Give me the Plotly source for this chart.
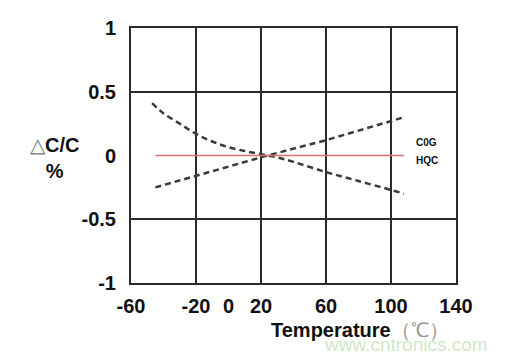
import plotly.graph_objects as go

# Data
temp_c0g_curve = [-47, -40, -30, -20, -10, 0, 10, 20, 30, 40, 60, 80, 100, 108]
dc_c0g_curve = [0.41, 0.33, 0.25, 0.17, 0.11, 0.065, 0.035, 0.01, -0.015, -0.05, -0.13, -0.20, -0.27, -0.30]
temp_rise = [-45, -20, 24, 60, 100, 108]
dc_rise = [-0.25, -0.16, 0.0, 0.12, 0.27, 0.30]
temp_flat = [-45, 108]
dc_flat = [0, 0]

x_tickvals = [-60, -20, 0, 20, 60, 100, 140]
x_gridvals = [-20, 20, 60, 100]
y_tickvals = [-1, -0.5, 0, 0.5, 1]
y_ticktext = ["-1", "-0.5", "0", "0.5", "1"]
y_gridvals = [-0.5, 0.5]

FONT = "Arial, Liberation Sans, sans-serif"
GRID = "#2b2b2b"

fig = go.Figure()
fig.add_trace(go.Scatter(x=temp_c0g_curve, y=dc_c0g_curve, mode="lines",
                         line=dict(color="#3a3a3a", width=2.5, dash="6px,4px", shape="spline"),
                         showlegend=False, hoverinfo="skip"))
fig.add_trace(go.Scatter(x=temp_rise, y=dc_rise, mode="lines",
                         line=dict(color="#3a3a3a", width=2.5, dash="6px,4px"),
                         showlegend=False, hoverinfo="skip"))
fig.add_trace(go.Scatter(x=temp_flat, y=dc_flat, mode="lines",
                         line=dict(color="#e07070", width=1.6),
                         showlegend=False, hoverinfo="skip"))

fig.update_layout(
    width=513, height=358, autosize=False,
    margin=dict(l=131, r=57, t=28, b=75),
    paper_bgcolor="white", plot_bgcolor="white",
    font=dict(family=FONT, color="#111"),
    xaxis=dict(range=[-60, 140], tickvals=x_tickvals, ticktext=[str(v) for v in x_tickvals],
               showgrid=False, zeroline=False, showline=True, mirror=True,
               linecolor=GRID, linewidth=2, ticks="", ticklabelstandoff=4,
               tickfont=dict(size=20, family=FONT, weight="bold", color="#111"),
               minor=dict(tickvals=x_gridvals, showgrid=True, gridcolor=GRID, gridwidth=2, ticks="")),
    yaxis=dict(range=[-1, 1], tickvals=y_tickvals, ticktext=y_ticktext,
               showgrid=False, zeroline=False, showline=True, mirror=True,
               linecolor=GRID, linewidth=2, ticks="", ticklabelstandoff=9,
               tickfont=dict(size=20, family=FONT, weight="bold", color="#111"),
               minor=dict(tickvals=y_gridvals, showgrid=True, gridcolor=GRID, gridwidth=2, ticks="")),
)

fig.add_annotation(xref="paper", yref="paper", x=-0.235, y=0.49,
                   xanchor="center", yanchor="middle",
                   text="<span style='font-weight:normal;color:#777'>△</span>C/C<br>%",
                   showarrow=False, font=dict(size=20, family=FONT, weight="bold", color="#111"),
                   align="center")
fig.add_annotation(xref="paper", yref="paper", x=0.705, y=-0.185,
                   xanchor="center", yanchor="middle",
                   text="<b>Temperature</b><span style='color:#999'>（℃）</span>",
                   showarrow=False, font=dict(size=20, family=FONT, color="#111"))
fig.add_annotation(xref="paper", yref="paper", x=0.845, y=-0.24,
                   xanchor="center", yanchor="middle",
                   text="www.cntronics.com", showarrow=False,
                   font=dict(size=19, family=FONT, color="#cfe8c8"))
fig.add_annotation(x=122, y=0.105, text="<b>C0G</b>", showarrow=False,
                   xanchor="center", yanchor="middle",
                   font=dict(size=10, family=FONT, color="#111"))
fig.add_annotation(x=122, y=-0.04, text="<b>HQC</b>", showarrow=False,
                   xanchor="center", yanchor="middle",
                   font=dict(size=10, family=FONT, color="#111"))

fig.write_html("out.html")
